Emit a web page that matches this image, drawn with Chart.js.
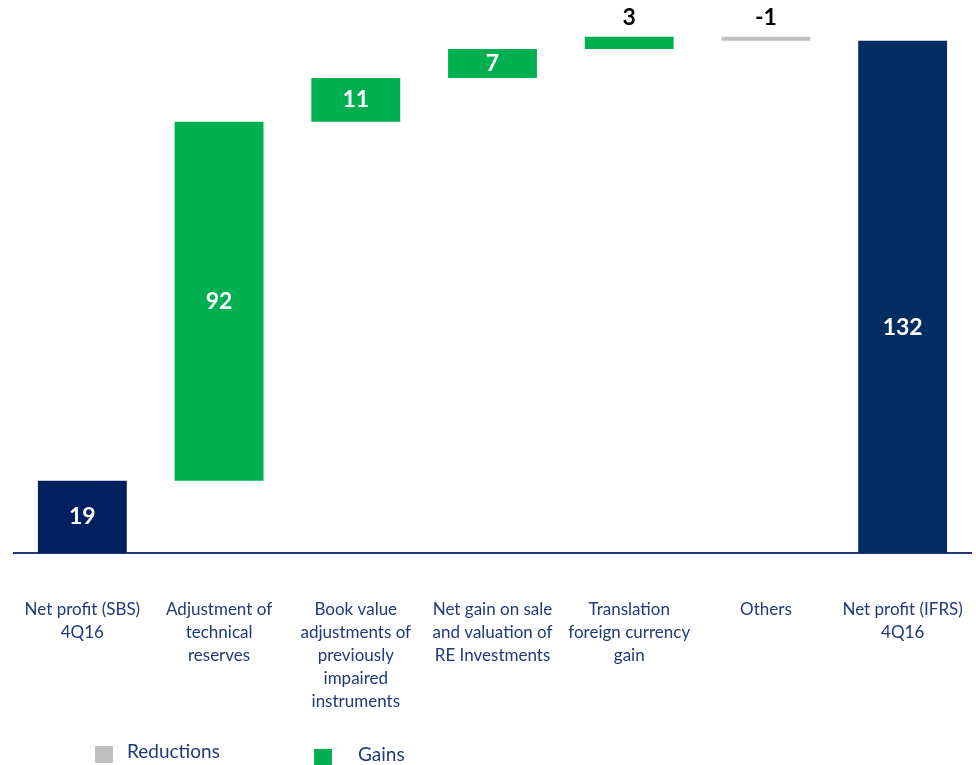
<!DOCTYPE html>
<html>
<head>
<meta charset="utf-8">
<script src="https://cdn.jsdelivr.net/npm/chart.js@4.4.1/dist/chart.umd.min.js"></script>
<style>
  html, body { margin: 0; padding: 0; background: #ffffff; }
  #wrap { width: 976px; height: 765px; position: relative; }
</style>
</head>
<body>
<div id="wrap"><canvas id="c" width="976" height="765"></canvas></div>
<script>
// ---- Data ----
const categories = [
  ["Net profit (SBS)", "4Q16"],
  ["Adjustment of", "technical", "reserves"],
  ["Book value", "adjustments of", "previously", "impaired", "instruments"],
  ["Net gain on sale", "and valuation of", "RE Investments"],
  ["Translation", "foreign currency", "gain"],
  ["Others"],
  ["Net profit (IFRS)", "4Q16"]
];
const startValue = 18.6;
const changes = [92.5, 11.3, 7.5, 3.1, -1.0];
const endValue = 132.0;
const valueLabels = ["19", "92", "11", "7", "3", "-1", "132"];
const legendLabels = ["Reductions", "Gains"];

// ---- Colours ----
const NAVY = "#002060";
const GREEN = "#00B050";
const GREY = "#BFBFBF";
const TEXT_BLUE = "#1F3A78";

// Build floating bars for waterfall
const barData = [[0, startValue]];
const barColors = [NAVY];
let running = startValue;
changes.forEach(ch => {
  barData.push([running, running + ch]);
  barColors.push(ch >= 0 ? GREEN : GREY);
  running += ch;
});
barData.push([0, endValue]);
barColors.push("#002D62");

const valueLabelPlugin = {
  id: 'valueLabels',
  afterDatasetsDraw(chart) {
    const ctx = chart.ctx;
    const meta = chart.getDatasetMeta(0);
    ctx.save();
    ctx.font = "bold 23px Lato, 'Open Sans', sans-serif";
    ctx.textAlign = 'center';
    ctx.textBaseline = 'middle';
    meta.data.forEach((el, i) => {
      const top = Math.min(el.y, el.base);
      const bottom = Math.max(el.y, el.base);
      const h = bottom - top;
      let y;
      if (h < 24) {
        ctx.fillStyle = '#000000';
        y = top - 19;
      } else {
        ctx.fillStyle = '#FFFFFF';
        y = (i === meta.data.length - 1) ? top + h * 0.56 : top + h / 2;
      }
      ctx.fillText(valueLabels[i], el.x, y);
    });
    ctx.restore();
  }
};

const legendPlugin = {
  id: 'customLegend',
  afterDraw(chart) {
    const ctx = chart.ctx;
    ctx.save();
    ctx.font = "19px Lato, 'Open Sans', sans-serif";
    ctx.textBaseline = 'middle';
    ctx.textAlign = 'left';
    ctx.fillStyle = GREY;
    ctx.fillRect(95, 746, 18, 17);
    ctx.fillStyle = TEXT_BLUE;
    ctx.fillText(legendLabels[0], 127, 752);
    ctx.fillStyle = GREEN;
    ctx.fillRect(314, 749, 18, 17);
    ctx.fillStyle = TEXT_BLUE;
    ctx.fillText(legendLabels[1], 358, 755);
    ctx.restore();
  }
};

new Chart(document.getElementById('c'), {
  type: 'bar',
  data: {
    labels: categories,
    datasets: [{
      data: barData,
      backgroundColor: barColors,
      borderWidth: 0,
      barPercentage: 0.65,
      categoryPercentage: 1.0
    }]
  },
  options: {
    responsive: false,
    animation: false,
    layout: { padding: { left: 14, right: 5, top: 0, bottom: 0 } },
    plugins: {
      legend: { display: false },
      tooltip: { enabled: false }
    },
    scales: {
      y: {
        display: false,
        min: 0,
        max: 142.5
      },
      x: {
        grid: { display: false, drawTicks: false },
        border: { display: true, color: '#1F3A7A', width: 2 },
        ticks: {
          color: TEXT_BLUE,
          padding: 45,
          maxRotation: 0,
          autoSkip: false,
          font: { family: "Lato, 'Open Sans', sans-serif", size: 17, lineHeight: 1.353 }
        },
        afterFit(axis) {
          axis.height = 212;
          axis.paddingLeft = 0;
          axis.paddingRight = 0;
        }
      }
    }
  },
  plugins: [valueLabelPlugin, legendPlugin]
});
</script>
</body>
</html>
